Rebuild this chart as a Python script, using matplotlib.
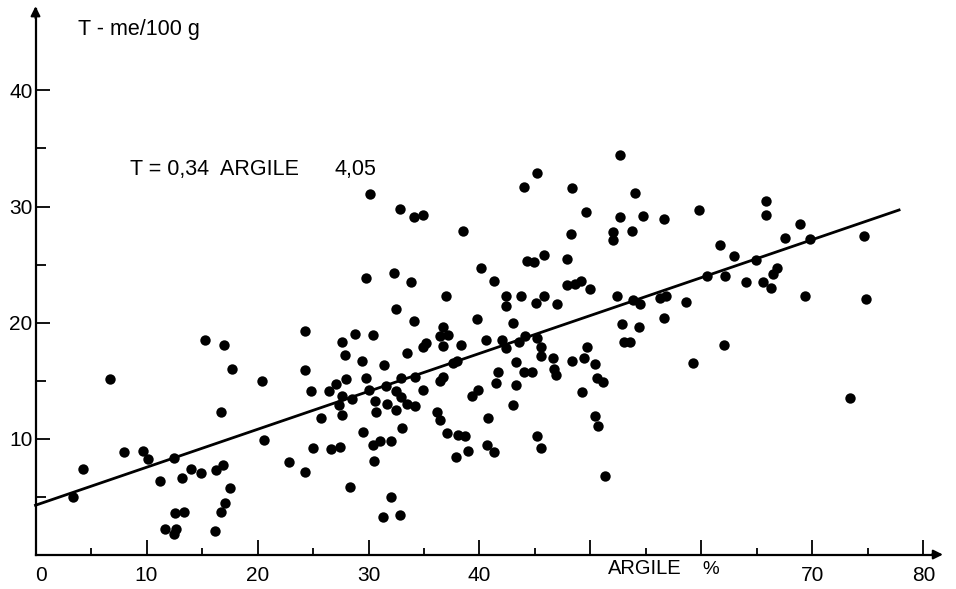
import numpy as np
import matplotlib.pyplot as plt

# ARGILE % (x) et capacite d'echange T en me/100 g (y)
argile = [24.3, 15.3, 17.0, 17.7, 24.3, 6.7, 20.4, 24.8, 26.4, 16.7,
          25.7, 20.6, 25.0, 26.6, 8.0, 9.7, 10.1, 12.5, 4.3, 22.8,
          14.0, 14.9, 16.3, 16.9, 24.3, 13.2, 11.2, 17.5, 3.4, 17.1,
          16.7, 12.6, 13.4, 11.7, 12.7, 12.5, 16.2, 34.1, 39.8, 43.0,
          36.7, 52.8, 27.6, 28.8, 30.4, 36.4, 37.2, 40.6, 42.0, 44.1,
          45.2, 34.9, 35.2, 36.7, 38.3, 42.4, 43.6, 45.5, 49.7, 27.9,
          33.5, 45.5, 29.4, 46.6, 48.3, 49.4, 50.4, 31.4, 37.6, 38.0,
          43.3, 46.7, 46.9, 44.0, 44.7, 41.7, 27.1, 28.0, 29.8, 32.9,
          34.2, 36.4, 36.7, 41.5, 43.3, 50.6, 51.1, 30.0, 31.6, 34.9,
          32.5, 39.9, 39.3, 49.2, 27.6, 28.5, 32.9, 27.3, 30.6, 33.5,
          34.2, 31.7, 43.0, 27.6, 30.7, 32.5, 36.2, 36.4, 40.8, 50.4,
          50.7, 29.5, 33.0, 37.1, 38.1, 38.7, 45.2, 27.4, 30.4, 31.0,
          32.0, 40.7, 41.3, 39.0, 37.9, 45.5, 30.5, 51.3, 28.3, 32.0,
          31.3, 32.8, 54.4, 56.6, 53.0, 53.6, 62.0, 59.2, 73.4, 30.1,
          32.8, 34.1, 34.9, 38.5, 45.2, 44.0, 48.3, 49.6, 52.7, 52.7,
          48.2, 52.0, 52.0, 29.8, 32.3, 33.8, 40.1, 41.3, 44.3, 44.9,
          45.8, 47.9, 37.0, 42.4, 42.4, 43.7, 45.1, 45.8, 47.0, 47.9,
          48.6, 49.1, 50.0, 52.4, 32.5, 54.0, 54.7, 56.6, 59.8, 53.7,
          65.8, 65.8, 68.9, 67.5, 69.8, 74.6, 61.7, 62.9, 64.9, 66.8,
          66.4, 60.5, 62.1, 64.0, 65.5, 66.3, 69.3, 74.8, 53.8, 54.5,
          56.3, 56.8, 58.6]
capacite = [19.3, 18.5, 18.1, 16.0, 15.9, 15.1, 15.0, 14.1, 14.1, 12.3,
            11.8, 9.9, 9.2, 9.1, 8.8, 8.9, 8.2, 8.3, 7.4, 8.0,
            7.4, 7.0, 7.3, 7.7, 7.1, 6.6, 6.3, 5.7, 5.0, 4.4,
            3.7, 3.6, 3.7, 2.2, 2.2, 1.8, 2.0, 20.1, 20.3, 20.0,
            19.6, 19.9, 18.3, 19.0, 18.9, 18.8, 18.9, 18.5, 18.5, 18.8,
            18.7, 17.9, 18.2, 18.0, 18.1, 17.8, 18.3, 17.9, 17.9, 17.2,
            17.4, 17.1, 16.7, 16.9, 16.7, 16.9, 16.4, 16.3, 16.5, 16.7,
            16.6, 16.0, 15.5, 15.7, 15.7, 15.7, 14.7, 15.1, 15.2, 15.2,
            15.3, 15.0, 15.3, 14.8, 14.6, 15.2, 14.9, 14.2, 14.5, 14.2,
            14.1, 14.2, 13.7, 14.0, 13.7, 13.4, 13.6, 12.9, 13.2, 13.0,
            12.8, 13.0, 12.9, 12.0, 12.3, 12.5, 12.3, 11.6, 11.8, 11.9,
            11.1, 10.6, 10.9, 10.5, 10.3, 10.2, 10.2, 9.3, 9.4, 9.8,
            9.8, 9.4, 8.8, 8.9, 8.4, 9.2, 8.1, 6.8, 5.8, 5.0,
            3.2, 3.4, 19.6, 20.4, 18.3, 18.3, 18.1, 16.5, 13.5, 31.1,
            29.8, 29.1, 29.3, 27.9, 32.9, 31.7, 31.6, 29.5, 34.4, 29.1,
            27.6, 27.8, 27.1, 23.8, 24.3, 23.5, 24.7, 23.6, 25.3, 25.2,
            25.8, 25.5, 22.3, 22.3, 21.4, 22.3, 21.7, 22.3, 21.6, 23.2,
            23.3, 23.6, 22.9, 22.3, 21.2, 31.2, 29.2, 28.9, 29.7, 27.9,
            30.5, 29.3, 28.5, 27.3, 27.2, 27.5, 26.7, 25.7, 25.4, 24.7,
            24.2, 24.0, 24.0, 23.5, 23.5, 23.0, 22.3, 22.0, 21.9, 21.6,
            22.1, 22.3, 21.8]

# droite de regression telle que tracee
droite_x = [0, 77.8]
droite_y = [4.25, 29.7]

x_ticks = [0, 10, 20, 30, 40, 50, 60, 70, 80]
x_labels = ['0', '10', '20', '30', '40', '', '', '70', '80']
x_minor = [5, 15, 25, 35, 45, 55, 65, 75]
y_ticks = [10, 20, 30, 40]
y_labels = ['10', '20', '30', '40']
y_minor = [5, 15, 25, 35]

plt.rcParams['font.family'] = ['Liberation Sans', 'DejaVu Sans']

fig = plt.figure(figsize=(9.56, 5.89), dpi=100)
ax = fig.add_axes([0, 0, 1, 1])
ax.set_xlim(-3.2, 82.93)
ax.set_ylim(-2.97, 47.8)

for s in ['top', 'right']:
    ax.spines[s].set_visible(False)
ax.spines['left'].set_position(('data', 0))
ax.spines['bottom'].set_position(('data', 0))
ax.spines['left'].set_bounds(0, 47.0)
ax.spines['bottom'].set_bounds(0, 81.3)
ax.spines['left'].set_linewidth(1.6)
ax.spines['bottom'].set_linewidth(1.6)

# fleches au bout des axes
ax.annotate('', xy=(82.0, 0), xytext=(80.5, 0),
            arrowprops=dict(arrowstyle='-|>', color='k', lw=1.5, mutation_scale=14),
            annotation_clip=False)
ax.annotate('', xy=(0, 47.5), xytext=(0, 46.0),
            arrowprops=dict(arrowstyle='-|>', color='k', lw=1.5, mutation_scale=14),
            annotation_clip=False)

ax.set_xticks(x_ticks, x_labels, fontsize=15)
ax.set_xticks(x_minor, minor=True)
ax.set_yticks(y_ticks, y_labels, fontsize=15)
ax.set_yticks(y_minor, minor=True)
ax.tick_params(axis='x', which='major', direction='in', length=11, width=1.3, pad=8.5)
ax.tick_params(axis='x', which='minor', direction='in', length=5, width=1.3)
ax.tick_params(axis='y', which='major', direction='in', length=10, width=1.3, pad=2)
ax.tick_params(axis='y', which='minor', direction='in', length=7, width=1.3)
ax.get_xticklabels()[0].set_ha('left')

ax.plot(droite_x, droite_y, color='k', lw=2.0)
ax.scatter(argile, capacite, s=56, c='k', linewidths=0, zorder=3)

ax.text(3.8, 44.8, 'T - me/100 g', fontsize=15.5, ha='left', va='baseline')
ax.text(8.5, 32.7, 'T = 0,34  ARGILE', fontsize=15.5, ha='left', va='baseline')
ax.text(26.9, 32.7, '4,05', fontsize=15.5, ha='left', va='baseline')
ax.text(51.6, -1.68, 'ARGILE', fontsize=14.5, ha='left', va='baseline')
ax.text(60.1, -1.68, '%', fontsize=13.5, ha='left', va='baseline')

fig.savefig('out.png', dpi=100)
